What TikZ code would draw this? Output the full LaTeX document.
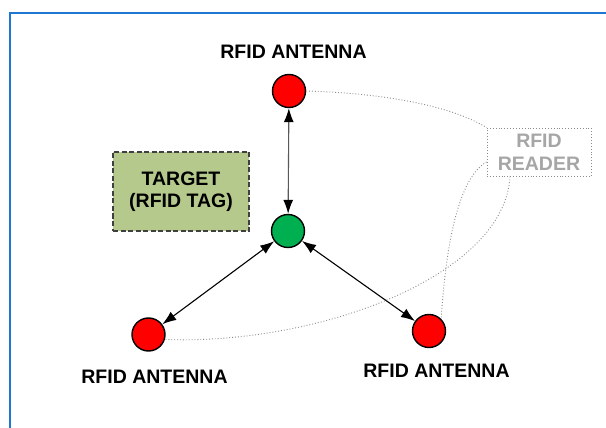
\documentclass[tikz,border=0pt]{standalone}
\usepackage{fontspec}
\setmainfont{Liberation Sans}
\usetikzlibrary{arrows.meta}
\definecolor{framebl}{RGB}{30,120,210}
\definecolor{tagfill}{RGB}{181,201,140}
\definecolor{antred}{RGB}{255,0,0}
\definecolor{tgtgreen}{RGB}{0,176,80}
\definecolor{readgray}{RGB}{166,166,166}
\definecolor{dotgray}{RGB}{140,140,140}
\tikzset{
  antenna/.style={circle,draw=black,line width=1.4pt,fill=antred,minimum size=33pt,inner sep=0pt},
  tagnode/.style={circle,draw=black,line width=1.4pt,fill=tgtgreen,minimum size=33pt,inner sep=0pt},
  lbl/.style={font=\bfseries\fontsize{19.5}{22}\selectfont,anchor=base,inner sep=0pt},
  targetbox/.style={draw=black!75,dash pattern=on 5pt off 2.5pt,line width=1.2pt,fill=tagfill,minimum width=136pt,minimum height=79pt,align=center,font=\bfseries\fontsize{19.5}{22}\selectfont,inner sep=0pt},
  readerbox/.style={draw=dotgray,dotted,line width=0.9pt,minimum width=104pt,minimum height=48pt,align=center,text=readgray,font=\bfseries\fontsize{19.5}{23}\selectfont,inner sep=0pt},
  link/.style={line width=1.1pt,{Latex[length=14pt,width=10pt,color=black]}-{Latex[length=14pt,width=10pt,color=black]}},
  wire/.style={draw=dotgray,dotted,line width=0.9pt}
}
\begin{document}
\begin{tikzpicture}[x=1pt,y=-1pt]
\useasboundingbox (0,0) rectangle (606,428);
\fill[white] (0,0) rectangle (606,428);
\draw[framebl,line width=2pt] (10,430) -- (10,13) -- (608,13);
\node[antenna] (top) at (289,91) {};
\node[tagnode] (tag) at (288,231) {};
\node[antenna] (bl) at (148.5,334.5) {};
\node[antenna] (br) at (429,331) {};
\node[lbl] (ltop) at (293.5,59) {RFID ANTENNA};
\node[lbl] (lbl) at (154.5,383) {RFID ANTENNA};
\node[lbl] (lbr) at (436.5,377) {RFID ANTENNA};
\node[targetbox] (target) at (181,191.5) {TARGET\\(RFID TAG)};
\node[readerbox] (reader) at (539,152) {RFID\\READER};
\draw[link,draw=black!65] (top) -- (tag);
\draw[link] (tag) -- (bl);
\draw[link] (tag) -- (br);
\draw[wire] (top.east) .. controls (380,93) and (450,105) .. (reader.north west);
\draw[wire] ([yshift=-10pt]reader.west) .. controls (455,180) and (445,260) .. (br.north east);
\draw[wire] ([xshift=-29pt]reader.south) .. controls (505,275) and (320,345) .. ([yshift=-5pt]bl.east);
\end{tikzpicture}
\end{document}
